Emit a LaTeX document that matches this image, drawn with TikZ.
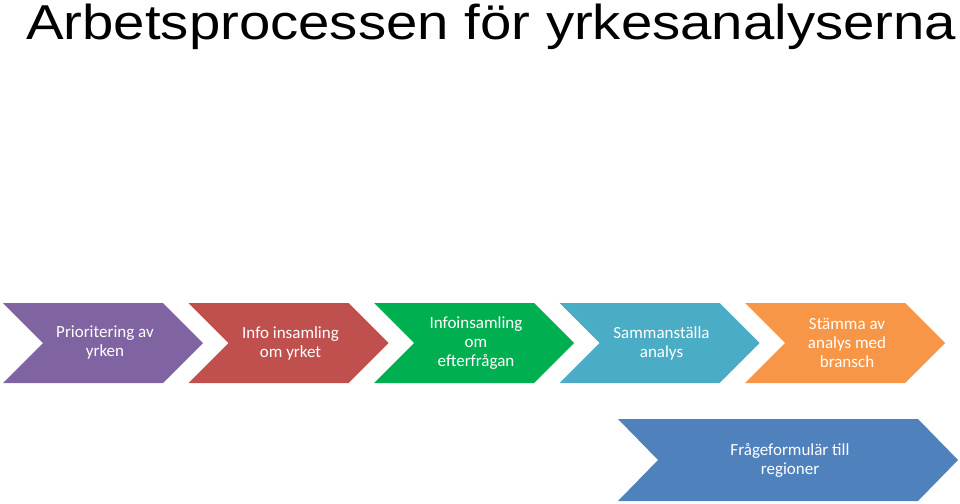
\documentclass[tikz,border=0pt]{standalone}
\usepackage{fontspec}
\setmainfont{Carlito}
\newfontfamily\titlefont{Liberation Sans}
\usetikzlibrary{positioning}
\definecolor{cpurple}{HTML}{8064A2}
\definecolor{cred}{HTML}{C0504D}
\definecolor{cgreen}{HTML}{00B050}
\definecolor{cteal}{HTML}{4BACC6}
\definecolor{corange}{HTML}{F79646}
\definecolor{cblue}{HTML}{4F81BD}
\tikzset{chevtext/.style={text=white, align=center, font={\fontsize{17}{19}\selectfont}}}
\newcommand{\chevron}[5]{% x, y, width, height, colour
  \fill[#5] (#1,#2) -- ++(#3-40,0) -- ++(40,#4/2) -- ++(-40,#4/2) -- ++(-#3+40,0) -- ++(40,-#4/2) -- cycle;}
\begin{document}
\begin{tikzpicture}[x=1pt,y=-1pt]
  \useasboundingbox (0,0) rectangle (960,503);
  \node[anchor=base west, inner sep=0, font={\titlefont\fontsize{49}{54}\selectfont}] (title) at (26,40) {\scalebox{1.15}[1]{Arbetsprocessen för yrkesanalyserna}};
  % chevrons of the process
  \foreach \i/\col/\txt in {0/cpurple/{Prioritering av\\yrken}, 1/cred/{Info insamling\\om yrket}, 2/cgreen/{Infoinsamling\\om\\efterfrågan}, 3/cteal/{Sammanställa\\analys}, 4/corange/{Stämma av\\analys med\\bransch}} {
    \chevron{3+185.5*\i}{303}{200}{80}{\col}
    \node[chevtext] (step-\i) at (3+185.5*\i+102,343) {\txt};
  }
  \chevron{618}{419}{340}{82}{cblue}
  \node[chevtext] (form) at (790,460) {Frågeformulär till\\regioner};
\end{tikzpicture}
\end{document}
